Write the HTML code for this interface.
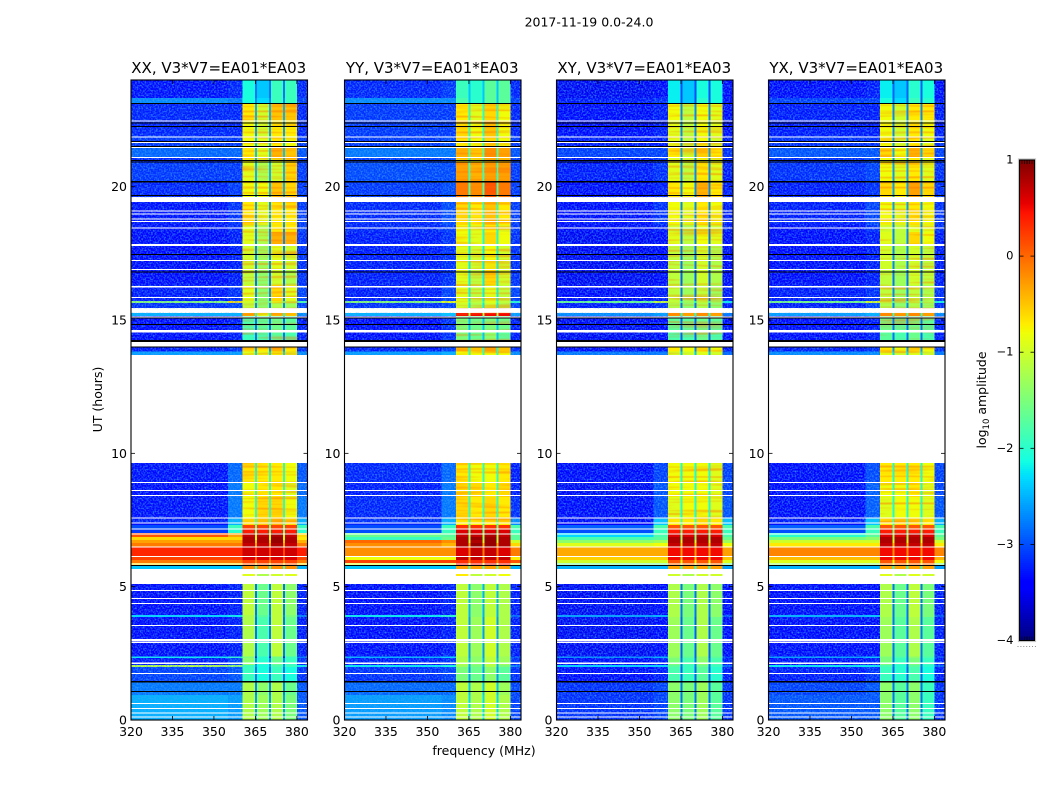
<!DOCTYPE html>
<html lang="en">
<head>
<meta charset="utf-8">
<title>2017-11-19 0.0-24.0</title>
<style>
html,body{margin:0;padding:0;background:#fff;}
svg{display:block;font-family:"DejaVu Sans","Liberation Sans",sans-serif;fill:#000;}
.tick{font-size:12.5px;}
.ptitle{font-size:15px;}
</style>
</head>
<body>
<svg id="figure" xmlns="http://www.w3.org/2000/svg" width="1050" height="800" viewBox="0 0 1050 800">
  <defs>
    <filter id="grain" x="0" y="0" width="100%" height="100%" color-interpolation-filters="sRGB">
      <feTurbulence type="fractalNoise" baseFrequency="0.62" numOctaves="1" seed="7"/>
      <feColorMatrix type="matrix" values="0 0 0 0 0.25  0 0 0 0 0.65  0 0 0 0 1  2.6 0 0 0 -1.05"/>
    </filter>
    <filter id="stripes" x="0" y="0" width="100%" height="100%" color-interpolation-filters="sRGB">
      <feTurbulence type="fractalNoise" baseFrequency="0.015 0.38" numOctaves="1" seed="11"/>
      <feColorMatrix type="matrix" values="0 0 0 0 1  0 0 0 0 0.45  0 0 0 0 0  3 0 0 0 -1.35"/>
    </filter>
  </defs>
  <rect x="0" y="0" width="1050" height="800" fill="#fff"/>
  <text x="589" y="26.5" text-anchor="middle" font-size="12.5">2017-11-19 0.0-24.0</text>
  <text transform="translate(102,399.5) rotate(-90)" text-anchor="middle" font-size="12.5">UT (hours)</text>
  <text x="484" y="755" text-anchor="middle" font-size="12.5">frequency (MHz)</text>
  <text transform="translate(986,400) rotate(-90)" text-anchor="middle" font-size="12.5">log<tspan font-size="8.5" dy="3">10</tspan><tspan dy="-3"> amplitude</tspan></text>
  <g id="panels"></g>
  <g id="colorbar"></g>
</svg>
<script>
// ---- chart data (UT hours, MHz, log10 amplitude) ----
const panelTitles = ["XX, V3*V7=EA01*EA03", "YY, V3*V7=EA01*EA03", "XY, V3*V7=EA01*EA03", "YX, V3*V7=EA01*EA03"];
const xTickValues = [320, 335, 350, 365, 380];
const yTickValues = [0, 5, 10, 15, 20];
const colorbarTickValues = [1, 0, -1, -2, -3, -4];
const freqRange = [320, 383.85];
const utRange = [0, 24];
const valueRange = [-4, 1];

// frequency bins: edges in MHz, and which value column of a row each bin reads
const freqEdges = [320, 355, 360.3, 364.8, 365.5, 369.9, 370.6, 375, 375.7, 380.1, 383.85];
const freqColumn = [0, 1, 2, 6, 3, 6, 4, 6, 5, 7];

// time bands: edges in UT hours, top of the plot downwards
const utEdges = [24,23.325,23.138,22.5,21.9,21.45,21.113,20.925,20.175,19.613,19.425,18.563,18.3,17.775,16.875,16.313,15.713,15.638,15.45,15.263,15.15,14.625,14.25,13.969,13.819,13.688,9.638,8.925,8.363,7.575,7.313,7.163,7.013,6.863,6.75,6.638,6.506,6.15,6,5.888,5.775,5.663,5.475,5.4,5.1,3.938,3.863,2.381,2.325,2.063,1.988,1.463,0.938,0];

// flagged (white) and black time ranges, [start, end] in UT hours
const whiteFlags = [[22.481,22.444],[21.889,21.84],[21.694,21.638],[21.488,21.45],[21.113,21.075],[19.586,19.425],[19.114,19.076],[18.994,18.956],[18.806,18.769],[18.713,18.675],[18.469,18.431],[17.85,17.775],[17.25,17.213],[16.913,16.875],[16.275,16.219],[15.863,15.825],[15.431,15.274],[15.131,15.094],[14.625,14.524],[14.175,13.999],[13.688,9.638],[8.925,8.888],[8.625,8.588],[8.438,8.4],[7.601,7.564],[7.414,7.376],[7.174,7.151],[7.001,6.975],[6.506,6.488],[6.15,6.124],[5.869,5.85],[5.663,5.475],[5.4,5.1],[4.875,4.838],[4.575,4.538],[4.388,4.35],[3.563,3.525],[3.038,2.936],[2.925,2.888],[2.149,2.1],[1.763,1.725],[0.638,0.6],[0.45,0.413],[0.289,0.251],[0.131,0.094]];
const blackFlags = [[23.138,23.1],[22.406,22.369],[22.275,22.238],[21.713,21.686],[21.525,21.495],[21,20.963],[20.944,20.914],[20.213,20.164],[19.688,19.65],[17.475,17.438],[16.826,16.789],[15.094,15.064],[14.85,14.813],[14.25,14.175],[13.999,13.969],[5.813,5.775],[1.463,1.406],[1.088,1.05]];

const FLAG = [null,null,null,null,null,null,null,null];

// each row: [background, shoulder, chan1, chan2, chan3, chan4, chan gaps, upper edge]
const xxValues = [
[-3.35,-3.25,-2.1,-2.4,-1.9,-1.9,-2.8,-3.25],
[-2.7,-2.8,-2.1,-2.3,-1.9,-1.9,-2.7,-3.1],
[-3.25,-3.25,-0.7,-1.0,-0.5,-0.5,-2.5,-3.25],
[-3.25,-3.25,-0.8,-1.0,-0.7,-0.7,-2.6,-3.25],
[-3.15,-3.15,-0.8,-0.9,-0.7,-0.8,-2.4,-3.15],
[-2.9,-2.9,-0.7,-0.9,-0.4,-0.5,-2.4,-3.0],
[-3.25,-3.15,-0.8,-0.9,-0.8,-0.7,-2.5,-3.15],
[-3.15,-3.15,-0.9,-1.2,-1.0,-0.6,-2.5,-3.15],
[-3.25,-3.15,-0.8,-0.8,-0.5,-0.6,-2.5,-3.15],
FLAG,
[-3.35,-3.2,-0.7,-0.9,-0.7,-0.7,-2.6,-3.15],
[-3.35,-3.25,-0.9,-1.2,-0.7,-0.7,-2.7,-3.15],
[-3.4,-3.3,-0.9,-1.2,-0.4,-0.4,-2.7,-3.2],
[-3.4,-3.3,-1.0,-1.3,-0.9,-1.0,-2.7,-3.2],
[-3.4,-3.3,-1.1,-1.4,-1.0,-1.2,-2.8,-3.2],
[-3.3,-3.2,-0.9,-1.4,-0.6,-0.9,-2.7,-3.1],
[-1.4,-0.6,-1.0,-1.4,-0.9,-1.1,-2.0,-1.8],
[-3.2,-3.1,-1.1,-1.4,-1.2,-1.3,-2.7,-3.1],
FLAG,
[-2.5,-2.5,-0.4,-0.9,-0.4,-0.5,-2.0,-2.7],
[-3.4,-3.3,-1.8,-1.7,-1.6,-1.7,-2.8,-3.3],
[-3.4,-3.3,-1.9,-1.8,-1.7,-1.8,-2.8,-3.3],
FLAG,
[-3.3,-3.2,-0.6,-0.7,-0.4,-0.7,-2.6,-3.2],
[-2.6,-2.6,-0.9,-0.9,-0.8,-0.9,-2.3,-2.7],
FLAG,
[-3.35,-2.9,-0.7,-0.7,-0.7,-0.8,-2.0,-3.0],
[-3.4,-2.8,-0.8,-0.7,-0.7,-0.9,-2.0,-2.9],
[-3.35,-2.8,-0.8,-0.6,-0.6,-0.8,-2.0,-2.8],
[-3.3,-2.5,-0.6,-0.5,-0.4,-0.6,-1.8,-2.5],
[-3.0,-1.9,0.2,0.2,0.2,0.2,-1.5,-1.9],
[-3.1,-2.0,0.4,0.4,0.4,0.4,-1.6,-2.0],
[0.1,-0.3,0.7,0.7,0.8,0.7,-1.0,-0.6],
[-0.6,-0.6,0.8,0.8,0.9,0.8,-0.8,-0.7],
[-0.3,-0.3,0.8,0.8,0.9,0.8,-0.5,-0.4],
[-0.1,-0.1,0.7,0.7,0.8,0.7,-0.3,-0.1],
[0.35,0.35,0.65,0.65,0.65,0.65,0.2,0.4],
[0.2,0.2,0.6,0.6,0.6,0.6,0.0,0.2],
[-0.1,-0.1,0.2,0.2,0.2,0.2,-0.2,-0.1],
[-0.6,-0.6,0.1,0.1,0.1,0.1,-0.6,-0.6],
[-2.4,-2.4,-0.2,-0.2,-0.2,-0.2,-1.9,-2.5],
FLAG,
[null,null,-0.9,-1.2,-1.0,-0.9,null,null],
FLAG,
[-3.4,-3.3,-1.1,-1.6,-1.1,-1.4,-2.8,-3.3],
[-2.3,-2.2,-1.2,-1.7,-1.1,-1.5,-2.7,-2.8],
[-3.4,-3.3,-1.2,-1.8,-1.1,-1.6,-2.8,-3.3],
[-2.2,-2.0,-1.5,-2.0,-1.6,-1.9,-3.2,-2.8],
[-3.3,-3.1,-1.4,-2.0,-1.6,-1.9,-2.7,-3.2],
[-1.1,-1.3,-1.9,-2.1,-1.8,-1.9,-2.6,-2.2],
[-3.1,-3.0,-1.9,-2.1,-1.9,-2.1,-2.8,-3.2],
[-2.8,-2.8,-1.2,-1.4,-1.2,-1.6,-2.7,-3.0],
[-2.5,-2.6,-1.2,-1.3,-1.2,-1.5,-2.6,-3.0]
];
const yyValues = [
[-3.25,-3.15,-1.9,-2.0,-1.7,-1.7,-2.4,-3.25],
[-2.7,-2.7,-1.8,-2.0,-1.7,-1.7,-2.4,-3.1],
[-3.15,-3.15,-0.7,-0.9,-0.6,-0.8,-2.0,-3.25],
[-3.15,-3.15,-0.6,-0.8,-0.5,-0.8,-2.0,-3.25],
[-3.15,-3.05,-0.7,-0.8,-0.6,-0.8,-2.0,-3.15],
[-2.8,-2.8,-0.4,-0.5,-0.2,-0.3,-1.8,-3.0],
[-3.15,-3.05,-0.7,-0.8,-0.5,-0.6,-2.0,-3.15],
[-3.05,-3.05,-0.3,-0.4,-0.3,-0.3,-1.9,-3.15],
[-3.15,-3.05,-0.1,-0.2,0.1,-0.1,-1.8,-3.15],
FLAG,
[-3.25,-3.05,-0.6,-0.7,-0.5,-0.7,-2.0,-3.15],
[-3.25,-3.15,-0.8,-0.9,-0.7,-0.9,-2.1,-3.15],
[-3.3,-3.2,-0.8,-0.9,-0.6,-0.8,-2.1,-3.2],
[-3.3,-3.2,-0.9,-1.0,-0.8,-1.0,-2.2,-3.2],
[-3.3,-3.2,-0.9,-1.1,-0.6,-1.0,-2.2,-3.2],
[-3.3,-3.1,-0.9,-1.1,-0.9,-1.1,-2.2,-3.1],
[-1.4,-0.8,-0.9,-1.1,-0.9,-1.1,-2.0,-2.0],
[-3.2,-3.1,-1.0,-1.2,-1.0,-1.2,-2.2,-3.1],
FLAG,
[-2.5,-2.4,0.5,0.5,0.5,0.5,-1.2,-2.6],
[-3.4,-3.2,-1.5,-1.6,-1.5,-1.6,-2.4,-3.3],
[-3.4,-3.2,-1.5,-1.6,-1.4,-1.7,-2.4,-3.3],
FLAG,
[-3.3,-3.1,-0.4,-0.5,-0.3,-0.5,-2.0,-3.2],
[-2.6,-2.5,-0.8,-0.8,-0.8,-0.8,-2.0,-2.7],
FLAG,
[-3.25,-2.9,-0.7,-0.8,-0.8,-0.7,-2.0,-3.3],
[-3.3,-2.8,-0.6,-0.6,-0.7,-0.6,-2.0,-3.3],
[-3.25,-2.8,-0.6,-0.7,-0.6,-0.7,-2.0,-3.2],
[-3.2,-2.5,-0.7,-0.7,-0.7,-0.7,-1.9,-2.7],
[-3.0,-1.9,0.3,0.3,0.3,0.3,-1.5,-1.8],
[-3.0,-1.9,0.6,0.6,0.6,0.6,-1.5,-1.9],
[-1.6,-1.7,0.7,0.7,0.8,0.7,-1.2,-1.7],
[-1.9,-1.6,0.8,0.9,0.9,0.8,-1.2,-1.7],
[0.0,-0.2,0.8,0.8,0.9,0.8,-1.0,-1.0],
[-0.2,-0.4,0.8,0.9,0.9,0.8,-0.4,-0.6],
[-0.2,-0.2,0.6,0.7,0.7,0.6,-0.1,-0.1],
[-0.8,-0.8,0.7,0.7,0.7,0.7,-0.3,-0.7],
[0.2,0.2,0.3,0.3,0.3,0.3,-0.2,0.1],
[-0.9,-0.9,0.5,0.5,0.6,0.5,-1.0,-0.9],
[-2.4,-2.4,-0.3,-0.3,-0.3,-0.3,-1.8,-2.5],
FLAG,
[null,null,-0.7,-1.1,-1.0,-0.8,null,null],
FLAG,
[-3.4,-3.3,-1.1,-1.4,-1.1,-1.2,-2.5,-3.3],
[-2.2,-2.0,-1.1,-1.4,-1.1,-1.2,-2.5,-2.9],
[-3.4,-3.3,-1.1,-1.3,-1.0,-1.2,-2.6,-3.3],
[-2.5,-2.3,-1.2,-1.4,-1.1,-1.3,-2.6,-3.0],
[-3.3,-3.2,-1.2,-1.4,-1.1,-1.3,-2.5,-3.2],
[-2.2,-2.1,-1.3,-1.5,-1.2,-1.5,-2.5,-2.8],
[-3.2,-3.1,-1.5,-1.6,-1.4,-1.7,-2.6,-3.2],
[-2.9,-2.9,-1.1,-1.2,-1.0,-1.3,-2.4,-3.1],
[-2.6,-2.7,-1.1,-1.2,-1.0,-1.2,-2.3,-3.1]
];
const xyValues = [
[-3.5,-3.4,-2.2,-2.4,-2.1,-2.1,-3.0,-3.4],
[-3.3,-3.2,-2.2,-2.4,-2.0,-2.1,-3.0,-3.4],
[-3.4,-3.3,-0.8,-1.1,-0.8,-0.9,-2.7,-3.4],
[-3.4,-3.3,-0.9,-1.1,-0.8,-0.9,-2.7,-3.4],
[-3.3,-3.3,-0.9,-1.1,-0.8,-1.0,-2.7,-3.3],
[-3.1,-3.1,-0.7,-1.0,-0.6,-0.7,-2.6,-3.2],
[-3.3,-3.2,-0.9,-1.0,-0.8,-0.9,-2.7,-3.3],
[-3.3,-3.2,-0.9,-1.1,-0.7,-0.9,-2.7,-3.3],
[-3.4,-3.3,-0.7,-0.8,-0.4,-0.7,-2.7,-3.3],
FLAG,
[-3.4,-3.2,-0.8,-0.9,-0.7,-0.8,-2.7,-3.3],
[-3.4,-3.3,-1.0,-1.2,-0.9,-1.0,-2.8,-3.3],
[-3.5,-3.4,-0.9,-1.1,-0.8,-0.9,-2.8,-3.4],
[-3.5,-3.4,-1.1,-1.3,-1.0,-1.2,-2.8,-3.4],
[-3.5,-3.4,-1.1,-1.3,-1.0,-1.2,-2.9,-3.4],
[-3.4,-3.3,-1.1,-1.3,-1.1,-1.3,-2.8,-3.3],
[-1.6,-1.0,-1.1,-1.3,-1.1,-1.3,-2.2,-2.2],
[-3.3,-3.2,-1.2,-1.4,-1.2,-1.4,-2.8,-3.3],
FLAG,
[-2.7,-2.6,-0.2,-0.3,-0.2,-0.3,-2.0,-2.8],
[-3.5,-3.4,-1.7,-1.7,-1.6,-1.7,-2.9,-3.4],
[-3.5,-3.4,-1.8,-1.8,-1.6,-1.8,-2.9,-3.4],
FLAG,
[-3.4,-3.3,-0.7,-0.8,-0.6,-0.8,-2.7,-3.3],
[-2.8,-2.8,-1.0,-1.0,-0.9,-1.0,-2.4,-2.9],
FLAG,
[-3.4,-3.1,-0.8,-0.8,-0.8,-0.9,-2.1,-3.1],
[-3.5,-3.0,-0.8,-0.8,-0.8,-0.9,-2.1,-3.1],
[-3.4,-3.0,-0.9,-0.8,-0.8,-0.9,-2.1,-3.0],
[-3.4,-2.4,-0.7,-0.7,-0.6,-0.7,-1.9,-2.4],
[-2.9,-1.8,0.1,0.1,0.1,0.1,-1.5,-1.8],
[-3.0,-1.9,0.4,0.4,0.4,0.4,-1.5,-1.9],
[-2.3,-1.8,0.6,0.6,0.7,0.6,-1.4,-1.8],
[-1.8,-1.7,0.8,0.8,0.8,0.8,-1.4,-1.6],
[-1.4,-1.3,0.8,0.8,0.8,0.8,-1.0,-1.3],
[-0.9,-0.8,0.7,0.7,0.7,0.7,-0.6,-0.8],
[-0.35,-0.35,0.5,0.5,0.5,0.5,-0.3,-0.3],
[-0.55,-0.55,0.5,0.5,0.5,0.5,-0.5,-0.5],
[-1.0,-1.0,0.1,0.1,0.1,0.1,-0.8,-0.9],
[-1.6,-1.6,0.0,0.0,0.0,0.0,-1.0,-1.6],
[-2.5,-2.5,-0.3,-0.3,-0.3,-0.3,-2.0,-2.6],
FLAG,
[null,null,-1.0,-1.2,-1.0,-1.0,null,null],
FLAG,
[-3.5,-3.4,-1.2,-1.5,-1.2,-1.4,-2.8,-3.4],
[-2.6,-2.5,-1.2,-1.5,-1.2,-1.4,-2.8,-3.0],
[-3.5,-3.4,-1.3,-1.6,-1.2,-1.6,-2.9,-3.4],
[-2.7,-2.5,-1.4,-1.7,-1.4,-1.7,-2.9,-3.1],
[-3.4,-3.3,-1.5,-1.8,-1.4,-1.8,-2.8,-3.3],
[-2.3,-2.3,-1.7,-1.9,-1.6,-1.9,-2.8,-2.9],
[-3.4,-3.3,-1.8,-1.9,-1.7,-2.0,-2.9,-3.3],
[-3.2,-3.1,-1.4,-1.5,-1.3,-1.7,-2.8,-3.2],
[-3.2,-3.1,-1.4,-1.5,-1.3,-1.7,-2.8,-3.2]
];
const yxValues = [
[-3.4,-3.3,-2.2,-2.4,-2.0,-2.1,-2.9,-3.4],
[-3.1,-3.1,-2.1,-2.3,-1.9,-2.0,-2.9,-3.3],
[-3.3,-3.3,-0.8,-1.0,-0.7,-0.7,-2.7,-3.3],
[-3.3,-3.3,-0.8,-1.0,-0.7,-0.8,-2.7,-3.3],
[-3.2,-3.2,-0.8,-1.0,-0.7,-0.9,-2.6,-3.2],
[-3.0,-3.0,-0.6,-0.8,-0.4,-0.6,-2.5,-3.1],
[-3.2,-3.1,-0.8,-0.9,-0.7,-0.9,-2.6,-3.2],
[-3.2,-3.1,-0.8,-0.9,-0.7,-0.9,-2.6,-3.2],
[-3.3,-3.2,-0.6,-0.7,-0.3,-0.6,-2.6,-3.2],
FLAG,
[-3.3,-3.1,-0.8,-0.9,-0.7,-0.8,-2.6,-3.2],
[-3.4,-3.2,-1.0,-1.1,-0.9,-0.9,-2.7,-3.2],
[-3.4,-3.3,-0.9,-1.1,-0.6,-0.8,-2.7,-3.3],
[-3.4,-3.3,-1.0,-1.2,-1.0,-1.1,-2.7,-3.3],
[-3.4,-3.3,-1.1,-1.3,-1.0,-1.1,-2.8,-3.3],
[-3.3,-3.2,-1.1,-1.3,-1.1,-1.2,-2.7,-3.2],
[-1.5,-0.9,-1.1,-1.3,-1.1,-1.2,-2.1,-2.1],
[-3.3,-3.1,-1.2,-1.4,-1.2,-1.3,-2.7,-3.2],
FLAG,
[-2.6,-2.5,-0.2,-0.3,-0.2,-0.3,-1.9,-2.7],
[-3.4,-3.3,-1.6,-1.7,-1.6,-1.7,-2.8,-3.3],
[-3.4,-3.3,-1.7,-1.8,-1.6,-1.8,-2.8,-3.3],
FLAG,
[-3.3,-3.2,-0.7,-0.8,-0.6,-0.8,-2.6,-3.2],
[-2.7,-2.7,-0.9,-1.0,-0.9,-1.0,-2.3,-2.8],
FLAG,
[-3.4,-3.05,-0.7,-0.7,-0.7,-0.8,-2.1,-3.1],
[-3.4,-2.95,-0.8,-0.8,-0.7,-0.9,-2.1,-3.1],
[-3.4,-2.95,-0.9,-0.8,-0.8,-0.9,-2.1,-3.0],
[-3.3,-2.4,-0.7,-0.6,-0.6,-0.7,-1.9,-2.5],
[-2.9,-1.8,0.1,0.1,0.1,0.1,-1.5,-1.8],
[-3.0,-1.9,0.4,0.4,0.4,0.4,-1.5,-1.9],
[-2.0,-1.7,0.6,0.6,0.7,0.6,-1.3,-1.7],
[-1.5,-1.4,0.8,0.8,0.8,0.8,-1.2,-1.5],
[-1.0,-1.0,0.8,0.8,0.8,0.8,-0.9,-1.0],
[-0.7,-0.7,0.7,0.7,0.7,0.7,-0.5,-0.7],
[-0.15,-0.15,0.5,0.5,0.5,0.5,-0.2,-0.15],
[-0.45,-0.45,0.5,0.5,0.5,0.5,-0.4,-0.4],
[-0.9,-0.9,0.1,0.1,0.1,0.1,-0.8,-0.8],
[-1.3,-1.4,0.0,0.0,0.0,0.0,-1.0,-1.5],
[-2.5,-2.5,-0.3,-0.3,-0.3,-0.3,-2.0,-2.6],
FLAG,
[null,null,-0.9,-1.2,-0.9,-1.0,null,null],
FLAG,
[-3.4,-3.4,-1.2,-1.6,-1.1,-1.5,-2.8,-3.3],
[-2.5,-2.4,-1.2,-1.6,-1.1,-1.5,-2.8,-3.0],
[-3.4,-3.4,-1.3,-1.7,-1.2,-1.7,-2.8,-3.3],
[-2.6,-2.4,-1.5,-1.8,-1.4,-1.8,-2.8,-3.1],
[-3.4,-3.3,-1.5,-1.9,-1.5,-1.9,-2.8,-3.3],
[-2.2,-2.2,-1.8,-2.0,-1.7,-2.0,-2.8,-2.9],
[-3.3,-3.2,-1.9,-2.0,-1.8,-2.1,-2.9,-3.3],
[-3.1,-3.0,-1.4,-1.7,-1.4,-1.9,-2.8,-3.2],
[-3.0,-3.0,-1.4,-1.7,-1.4,-1.9,-2.8,-3.2]
];
const panelValues = [xxValues, yyValues, xyValues, yxValues];

// ---- layout ----
const plotLefts = [131, 344.5, 556.5, 768.5];
const plotWidth = 176.5, plotTop = 80, plotBottom = 720;
const cbLeft = 1019.5, cbRight = 1034.5, cbTop = 160, cbBottom = 640.5;
const SVGNS = "http://www.w3.org/2000/svg";

function xScale(left, mhz) { return left + (mhz - freqRange[0]) / (freqRange[1] - freqRange[0]) * plotWidth; }
function yScale(ut) { return plotBottom - (ut - utRange[0]) / (utRange[1] - utRange[0]) * (plotBottom - plotTop); }
function cbScale(v) { return cbBottom - (v - valueRange[0]) / (valueRange[1] - valueRange[0]) * (cbBottom - cbTop); }

function ramp(t, pts) {
  for (let i = 1; i < pts.length; i++) {
    if (t <= pts[i][0]) {
      const a = pts[i - 1], b = pts[i];
      return a[1] + (b[1] - a[1]) * (t - a[0]) / (b[0] - a[0]);
    }
  }
  return pts[pts.length - 1][1];
}
function jet(v) {
  const t = Math.max(0, Math.min(1, (v - valueRange[0]) / (valueRange[1] - valueRange[0])));
  const r = ramp(t, [[0, 0], [0.35, 0], [0.66, 1], [0.89, 1], [1, 0.5]]);
  const g = ramp(t, [[0, 0], [0.125, 0], [0.375, 1], [0.64, 1], [0.91, 0], [1, 0]]);
  const b = ramp(t, [[0, 0.5], [0.11, 1], [0.34, 1], [0.65, 0], [1, 0]]);
  return "rgb(" + Math.round(r * 255) + "," + Math.round(g * 255) + "," + Math.round(b * 255) + ")";
}
function make(tag, parent, attrs) {
  const el = document.createElementNS(SVGNS, tag);
  for (const k in attrs) el.setAttribute(k, attrs[k]);
  parent.appendChild(el);
  return el;
}

const panelsRoot = document.getElementById("panels");
panelTitles.forEach(function (title, p) {
  const left = plotLefts[p], right = left + plotWidth;
  const values = panelValues[p];
  const g = make("g", panelsRoot, {});
  
  

  const heat = make("g", g, { "shape-rendering": "crispEdges" });
  
  

  values.forEach(function (row, r) {
    const y0 = yScale(utEdges[r]), y1 = yScale(utEdges[r + 1]);
    freqColumn.forEach(function (col, c) {
      const v = row[col];
      if (v === null) return;
      const x0 = xScale(left, freqEdges[c]), x1 = xScale(left, freqEdges[c + 1]);
      const cell = make("rect", heat, { x: x0, y: y0, width: x1 - x0, height: y1 - y0, fill: jet(v) });
      
      
    });
  });

  // cosmetic textures: speckle on the noise background, fine striping in the channels
  [[24, 7.4], [5.1, 0]].forEach(function (span) {
    const sy = yScale(span[0]), sh = yScale(span[1]) - yScale(span[0]);
    const a = make("rect", g, { x: left, y: sy, width: xScale(left, 360.3) - left, height: sh, filter: "url(#grain)", opacity: "0.75" });
    
    
    const b = make("rect", g, { x: xScale(left, 380.1), y: sy, width: right - xScale(left, 380.1), height: sh, filter: "url(#grain)", opacity: "0.75" });
    
    
  });
  [2, 4, 6, 8].forEach(function (bin) {
    const cx0 = xScale(left, freqEdges[bin]), cx1 = xScale(left, freqEdges[bin + 1]);
    const s = make("rect", g, { x: cx0, y: yScale(23.1), width: cx1 - cx0, height: yScale(7.4) - yScale(23.1), filter: "url(#stripes)", opacity: "0.55" });
    
    
  });

  const flags = make("g", g, { "shape-rendering": "crispEdges" });
  
  
  whiteFlags.forEach(function (f) {
    const band = make("rect", flags, { x: left, y: yScale(f[0]), width: plotWidth, height: Math.max(1, yScale(f[1]) - yScale(f[0])), fill: "#fff" });
    
    
  });
  blackFlags.forEach(function (f) {
    const band = make("rect", flags, { x: left, y: yScale(f[0]), width: plotWidth, height: Math.max(1, yScale(f[1]) - yScale(f[0])), fill: "#000" });
    
    
  });

  const frame = make("rect", g, { x: left, y: plotTop, width: plotWidth, height: plotBottom - plotTop, fill: "none", stroke: "#000", "stroke-width": "1.1" });
  
  

  xTickValues.forEach(function (v) {
    const x = xScale(left, v);
    const t1 = make("line", g, { x1: x, x2: x, y1: plotBottom, y2: plotBottom - 4, stroke: "#000", "stroke-width": "0.8" });
    
    
    const t2 = make("line", g, { x1: x, x2: x, y1: plotTop, y2: plotTop + 4, stroke: "#000", "stroke-width": "0.8" });
    
    
    const lab = make("text", g, { x: x, y: 736, "text-anchor": "middle", class: "tick" });
    
    
    lab.textContent = v;
  });
  yTickValues.forEach(function (v) {
    const y = yScale(v);
    const t1 = make("line", g, { x1: left, x2: left + 4, y1: y, y2: y, stroke: "#000", "stroke-width": "0.8" });
    
    
    const t2 = make("line", g, { x1: right, x2: right - 4, y1: y, y2: y, stroke: "#000", "stroke-width": "0.8" });
    
    
    const lab = make("text", g, { x: left - 4, y: y + 4.5, "text-anchor": "end", class: "tick" });
    
    
    lab.textContent = v;
  });

  const tt = make("text", g, { x: left + plotWidth / 2 - 0.5, y: 73, "text-anchor": "middle", class: "ptitle" });
  
  
  tt.textContent = title;
});

// ---- colorbar ----
const cbRoot = document.getElementById("colorbar");
const halo = make("rect", cbRoot, { x: cbLeft - 1, y: cbTop - 1, width: cbRight - cbLeft + 2, height: cbBottom - cbTop + 2, fill: "none", stroke: "#c4c4c4", "stroke-width": "1.2" });


const cbCells = make("g", cbRoot, { "shape-rendering": "crispEdges" });


const cbSteps = 240;
for (let i = 0; i < cbSteps; i++) {
  const v0 = valueRange[0] + (valueRange[1] - valueRange[0]) * i / cbSteps;
  const v1 = valueRange[0] + (valueRange[1] - valueRange[0]) * (i + 1) / cbSteps;
  const step = make("rect", cbCells, { x: cbLeft, y: cbScale(v1), width: cbRight - cbLeft, height: cbScale(v0) - cbScale(v1) + 0.5, fill: jet((v0 + v1) / 2) });
  
  
}
const cbFrame = make("rect", cbRoot, { x: cbLeft, y: cbTop, width: cbRight - cbLeft, height: cbBottom - cbTop, fill: "none", stroke: "#000", "stroke-width": "1" });


colorbarTickValues.forEach(function (v) {
  const y = cbScale(v);
  const t1 = make("line", cbRoot, { x1: cbLeft, x2: cbLeft + 4, y1: y, y2: y, stroke: "#000", "stroke-width": "0.8" });
  
  
  const t2 = make("line", cbRoot, { x1: cbRight, x2: cbRight - 4, y1: y, y2: y, stroke: "#000", "stroke-width": "0.8" });
  
  
  const lab = make("text", cbRoot, { x: 1013.5, y: y + 3.5, "text-anchor": "end", "font-size": "11.5" });
  
  
  lab.textContent = String(v).replace("-", "\u2212");
});
for (let i = 1; i <= 5; i++) {
  const x = cbLeft + (cbRight - cbLeft) * i / 6;
  const a = make("line", cbRoot, { x1: x, x2: x, y1: cbTop, y2: cbTop + 4, stroke: "#000", "stroke-width": "0.7" });
  
  
  const b = make("line", cbRoot, { x1: x, x2: x, y1: cbBottom, y2: cbBottom - 4, stroke: "#000", "stroke-width": "0.7" });
  
  
}
for (let i = 0; i < 7; i++) {
  const d = make("rect", cbRoot, { x: 1017.5 + i * 2.9, y: 646, width: 1, height: 1, fill: "#8c8c8c" });
  
  
}
</script>
</body>
</html>
